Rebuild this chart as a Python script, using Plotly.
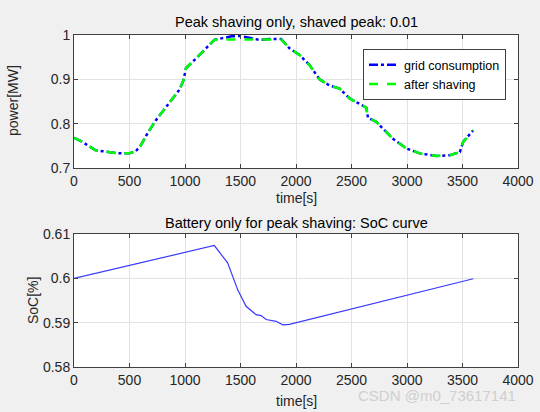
import plotly.graph_objects as go
from plotly.subplots import make_subplots

# === Datos ===
t_grid = [0, 75, 135, 196, 256, 331, 406, 497, 557, 602, 662, 738, 798, 888, 948, 987,
          1008, 1099, 1189, 1264, 1339, 1420, 1490, 1580, 1670, 1760, 1866, 1941, 2032,
          2122, 2212, 2303, 2393, 2483, 2573, 2634, 2649, 2724, 2814, 2874, 2995, 3115,
          3266, 3386, 3476, 3506, 3597]
grid_consumption = [0.768, 0.759, 0.749, 0.740, 0.738, 0.736, 0.733, 0.733, 0.738, 0.751,
                    0.778, 0.808, 0.827, 0.857, 0.876, 0.898, 0.925, 0.947, 0.970, 0.989,
                    0.993, 0.997, 0.998, 0.993, 0.989, 0.991, 0.991, 0.970, 0.955, 0.932,
                    0.900, 0.886, 0.879, 0.857, 0.844, 0.836, 0.813, 0.804, 0.781, 0.766,
                    0.744, 0.733, 0.727, 0.729, 0.736, 0.759, 0.785]
after_shaving = [0.768, 0.759, 0.749, 0.740, 0.738, 0.736, 0.733, 0.733, 0.738, 0.751,
                 0.778, 0.808, 0.827, 0.857, 0.876, 0.898, 0.925, 0.947, 0.970, 0.989,
                 0.990, 0.990, 0.990, 0.990, 0.989, 0.990, 0.990, 0.970, 0.955, 0.932,
                 0.900, 0.886, 0.879, 0.857, 0.844, 0.836, 0.813, 0.804, 0.781, 0.766,
                 0.744, 0.733, 0.727, 0.729, 0.736, 0.759, 0.785]

t_soc = [0, 1264, 1384, 1475, 1550, 1640, 1686, 1731, 1821, 1881, 1941, 3597]
soc = [0.600, 0.6074, 0.6035, 0.5974, 0.5937, 0.5918, 0.5916, 0.5907, 0.5903, 0.5895,
       0.5896, 0.5999]

x_ticks = [0, 500, 1000, 1500, 2000, 2500, 3000, 3500, 4000]
p_ticks = [0.7, 0.8, 0.9, 1.0]
p_labels = ['0.7', '0.8', '0.9', '1']
s_ticks = [0.58, 0.59, 0.60, 0.61]
s_labels = ['0.58', '0.59', '0.6', '0.61']

FONT = 'Liberation Sans, Arial, sans-serif'

# === Crear grafico ===
fig = make_subplots(rows=2, cols=1)

fig.add_trace(go.Scatter(x=t_grid, y=grid_consumption, name='grid consumption',
                         mode='lines', line=dict(color='#0000ff', width=2.5, dash='dashdot')),
              row=1, col=1)
fig.add_trace(go.Scatter(x=t_grid, y=after_shaving, name='after shaving',
                         mode='lines', line=dict(color='#00ff00', width=2.5, dash='dash')),
              row=1, col=1)
fig.add_trace(go.Scatter(x=t_soc, y=soc, name='SoC', showlegend=False,
                         mode='lines', line=dict(color='#3a3aff', width=1.2)),
              row=2, col=1)

axis_style = dict(showline=True, mirror='ticks', linecolor='#404040', linewidth=1,
                  ticks='inside', ticklen=4, tickcolor='#404040', automargin=False,
                  showgrid=True, gridcolor='#e3e3e3', zeroline=False,
                  tickfont=dict(family=FONT, size=14, color='#262626'))

fig.update_xaxes(range=[0, 4000], tickvals=x_ticks, domain=[74 / 540, 518 / 540], **axis_style)
fig.update_yaxes(range=[0.7, 1.0], tickvals=p_ticks, ticktext=p_labels,
                 domain=[1 - 168 / 412, 1 - 35 / 412], row=1, col=1, **axis_style)
fig.update_yaxes(range=[0.58, 0.61], tickvals=s_ticks, ticktext=s_labels,
                 domain=[1 - 367 / 412, 1 - 234 / 412], row=2, col=1, **axis_style)

def txt(x, y, s, size=14, angle=0, color='#000000'):
    fig.add_annotation(x=x / 540, y=1 - y / 412, xref='paper', yref='paper', text=s,
                       showarrow=False, textangle=angle, xanchor='center', yanchor='middle',
                       font=dict(family=FONT, size=size, color=color))

txt(296, 22, 'Peak shaving only, shaved peak: 0.01', size=14.5)
txt(296, 223, 'Battery only for peak shaving: SoC curve', size=14.5)
txt(296, 198, 'time[s]', color='#262626')
txt(296, 401, 'time[s]', color='#262626')
txt(13, 101, 'power[MW]', angle=-90, color='#262626')
txt(33, 301, 'SoC[%]', angle=-90, color='#262626')
txt(437, 395, 'CSDN @m0_73617141', size=15, color='#cfcfcf')

fig.update_layout(
    width=540, height=412,
    margin=dict(l=0, r=0, t=0, b=0, autoexpand=False),
    paper_bgcolor='#f0f0f0', plot_bgcolor='#ffffff',
    legend=dict(x=363 / 540, y=1 - 49 / 412, xanchor='left', yanchor='top',
                bgcolor='#ffffff', bordercolor='#404040', borderwidth=1,
                font=dict(family=FONT, size=12.5, color='#000000'),
                itemwidth=30, tracegroupgap=0),
    showlegend=True,
)

# quitar el margen del body para que la figura empiece en (0, 0)
fig.write_html("out.html", config={'displayModeBar': False},
               post_script="document.body.style.margin='0';")
